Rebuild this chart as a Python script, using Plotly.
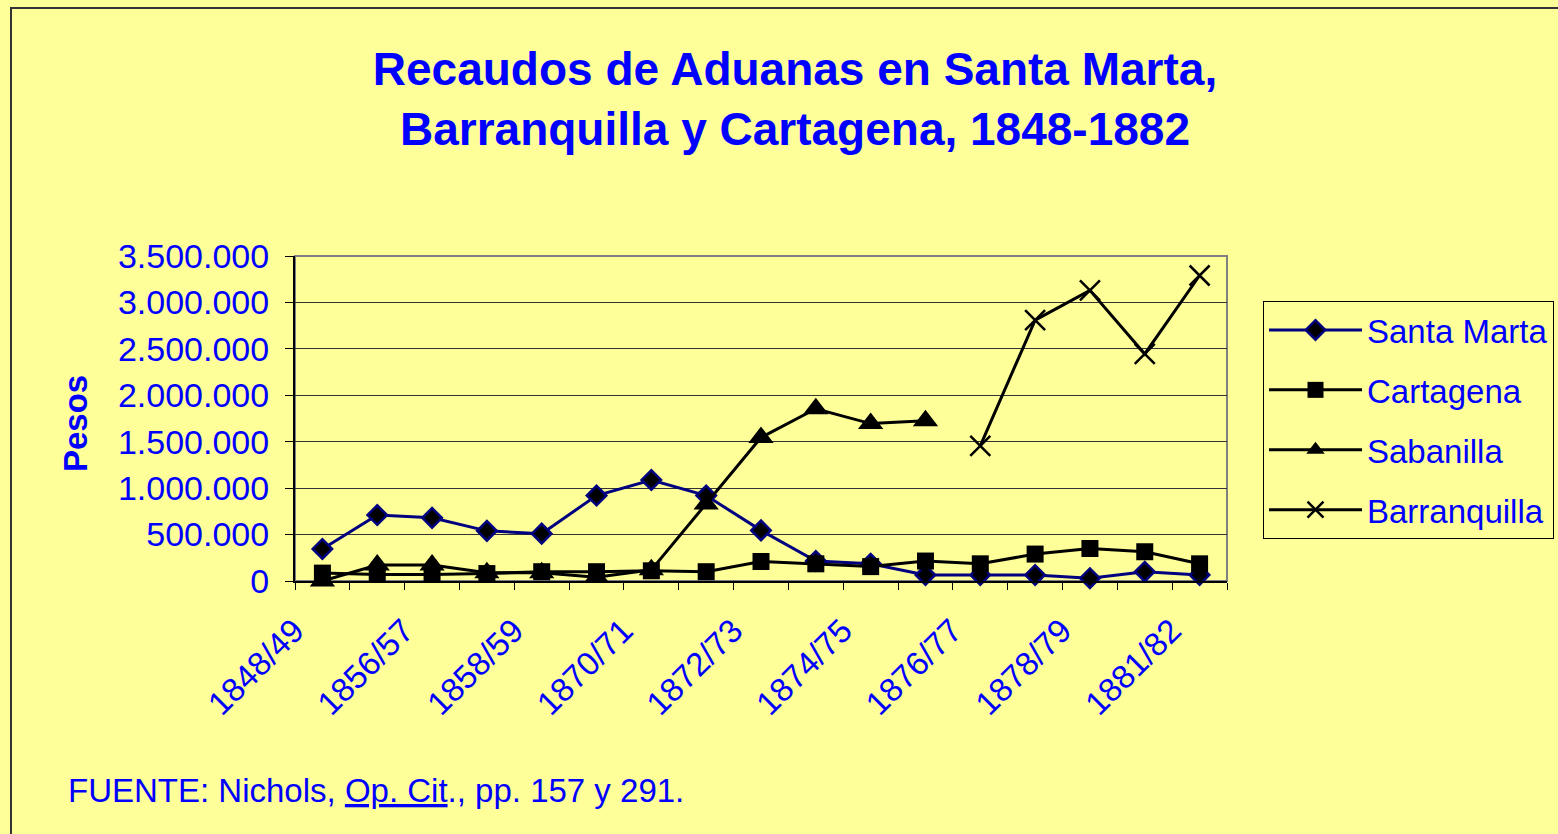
import plotly.graph_objects as go

# ---- data ----
periodos = ["1848/49", "1855/56", "1856/57", "1857/58", "1858/59", "1869/70",
            "1870/71", "1871/72", "1872/73", "1873/74", "1874/75", "1875/76",
            "1876/77", "1877/78", "1878/79", "1879/80", "1881/82"]
santa_marta = [345000, 710000, 680000, 540000, 510000, 920000, 1088000, 920000,
               545000, 215000, 185000, 65000, 65000, 65000, 30000, 100000, 65000]
cartagena = [85000, 70000, 70000, 80000, 100000, 100000, 110000, 100000,
             210000, 185000, 155000, 215000, 185000, 290000, 350000, 315000, 185000]
sabanilla = [0, 172000, 172000, 90000, 90000, 40000, 120000, 830000,
             1545000, 1855000, 1695000, 1725000, None, None, None, None, None]
barranquilla = [None] * 12 + [1455000, 2810000, 3130000, 2445000, 3290000]
etiquetas_x = [p if i % 2 == 0 else "" for i, p in enumerate(periodos)]

BLUE = "#0000FF"
BG = "#FFFF99"
FONT = "Arial, Liberation Sans, sans-serif"

fig = go.Figure()
fig.add_trace(go.Scatter(
    x=periodos, y=santa_marta, name="Santa Marta", mode="lines+markers",
    line=dict(color="#000080", width=3), legendgroup="a",
    marker=dict(symbol="diamond", size=15, color="#000000",
                line=dict(color="#000080", width=2.5)),
    cliponaxis=False))
fig.add_trace(go.Scatter(
    x=periodos, y=cartagena, name="Cartagena", mode="lines+markers",
    line=dict(color="#000000", width=3), legendgroup="b",
    marker=dict(symbol="square", size=17, color="#000000"),
    cliponaxis=False))
fig.add_trace(go.Scatter(
    x=periodos, y=sabanilla, name="Sabanilla", mode="lines+markers",
    line=dict(color="#000000", width=3), legendgroup="c",
    marker=dict(symbol="triangle-up", size=22, color="#000000"),
    connectgaps=False, cliponaxis=False))
fig.add_trace(go.Scatter(
    x=periodos, y=barranquilla, name="Barranquilla", mode="lines+markers",
    line=dict(color="#000000", width=3), legendgroup="d",
    marker=dict(symbol="x-thin", size=20, color="#000000",
                line=dict(color="#000000", width=2.5)),
    connectgaps=False, cliponaxis=False))

fig.update_layout(
    width=1558, height=834,
    paper_bgcolor=BG, plot_bgcolor=BG,
    margin=dict(l=295, r=331, t=256, b=253, autoexpand=False),
    separators=",.",
    font=dict(family=FONT, color=BLUE, size=33),
    title=dict(
        text="<b>Recaudos de Aduanas en Santa Marta,<br>Barranquilla y Cartagena, 1848-1882</b>",
        font=dict(family=FONT, size=46, color=BLUE),
        xref="container", x=795 / 1558, xanchor="center",
        yref="container", y=1 - 85 / 834, yanchor="top"),
    showlegend=True,
    legend=dict(
        x=(1263 - 295) / 932, xanchor="left",
        y=(581 - 301) / 325, yanchor="top",
        bgcolor=BG, bordercolor="#000000", borderwidth=1,
        font=dict(family=FONT, size=33, color=BLUE),
        itemwidth=93, tracegroupgap=14, traceorder="grouped",
        itemsizing="trace"),
    xaxis=dict(
        type="category", tickvals=periodos, ticktext=etiquetas_x,
        tickson="boundaries", ticks="outside", ticklen=7, tickcolor="#000000",
        tickangle=-45, tickfont=dict(family=FONT, size=33, color=BLUE),
        ticklabelshift=-28, ticklabelstandoff=15,
        showline=True, linecolor="#000000", linewidth=2,
        showgrid=False, zeroline=False, range=[-0.5, 16.5]),
    yaxis=dict(
        range=[0, 3500000], dtick=500000, tick0=0, tickformat=",d",
        ticks="outside", ticklen=8, tickcolor="#000000",
        tickfont=dict(family=FONT, size=34, color=BLUE),
        ticklabelstandoff=9,
        showline=True, linecolor="#000000", linewidth=2,
        showgrid=True, gridcolor="#333333", gridwidth=1, zeroline=False),
    shapes=[
        dict(type="rect", xref="paper", yref="paper", x0=0, x1=1, y0=0, y1=1,
             line=dict(color="#808080", width=2), layer="below"),
        dict(type="rect", xref="paper", yref="paper",
             x0=(11 - 295) / 932, x1=2.0, y0=-2.0, y1=(581 - 8) / 325,
             line=dict(color="#333333", width=2), layer="below"),
    ],
    annotations=[
        dict(text="<b>Pesos</b>", textangle=-90, xref="paper", yref="paper",
             x=(75 - 295) / 932, y=(581 - 424) / 325, xanchor="center",
             yanchor="middle", showarrow=False,
             font=dict(family=FONT, size=33, color=BLUE)),
        dict(text="FUENTE: Nichols, <u>Op. Cit</u>., pp. 157 y 291.",
             xref="paper", yref="paper", x=(66 - 295) / 932,
             y=(581 - 790) / 325, xanchor="left", yanchor="middle",
             showarrow=False, font=dict(family=FONT, size=33, color=BLUE)),
    ],
)

fig.write_html("out.html", config={"displayModeBar": False},
               post_script="document.body.style.margin='0';")
